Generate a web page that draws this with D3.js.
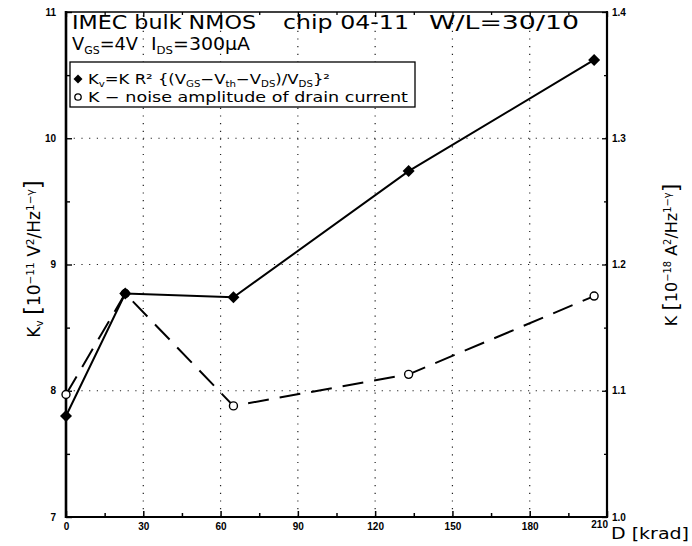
<!DOCTYPE html>
<html><head><meta charset="utf-8">
<script src="https://cdn.jsdelivr.net/npm/d3@7"></script>
<style>
body{margin:0;background:#fff}
svg text{fill:#000}
.tick text{font-family:"Liberation Sans",Arial,sans-serif;font-weight:bold;font-size:10px}
</style>
</head><body>
<svg id="chart" width="692" height="546"></svg>
<script>
// Dose (krad) at which each measurement was taken
const doses = [0, 23, 65, 133, 205];
// Kv = K R^2 {(VGS-Vth-VDS)/VDS}^2, in 1e-11 V^2/Hz^(1-γ)
const kvValues = [7.80, 8.77, 8.74, 9.74, 10.62];
// K, noise amplitude of drain current, in 1e-18 A^2/Hz^(1-γ)
const kValues = [1.097, 1.177, 1.088, 1.113, 1.175];
const xTicks = [0, 30, 60, 90, 120, 150, 180, 210];
const leftTicks = [7, 8, 9, 10, 11];
const rightTicks = [1.0, 1.1, 1.2, 1.3, 1.4];

const svg = d3.select("#chart");
const L = 66, R = 607, T = 12, B = 517;
const x = d3.scaleLinear().domain([0, 210]).range([L, R]);
const yL = d3.scaleLinear().domain([7, 11]).range([B, T]);
const yR = d3.scaleLinear().domain([1.0, 1.4]).range([B, T]);

// dotted grid
const grid = svg.append("g").attr("stroke", "#222").attr("stroke-width", 1.2)
  .attr("stroke-dasharray", "1.2,6.5").attr("fill", "none");
grid.selectAll(".gx").data(xTicks.slice(1, -1)).join("line")
  .attr("x1", d => x(d)).attr("x2", d => x(d)).attr("y1", B).attr("y2", T);
grid.selectAll(".gy").data(leftTicks.slice(1, -1)).join("line")
  .attr("y1", d => yL(d)).attr("y2", d => yL(d)).attr("x1", L).attr("x2", R);

// axes with inward ticks
const isMajor = (v, step) => Math.abs(v / step - Math.round(v / step)) < 1e-6;
const axBottom = svg.append("g").attr("transform", `translate(0,${B})`)
  .call(d3.axisBottom(x).tickValues(d3.range(0, 211, 15))
    .tickFormat(d => isMajor(d, 30) && d !== 210 ? d : "")
    .tickSizeInner(-6).tickSizeOuter(0).tickPadding(6));
axBottom.selectAll(".tick line").attr("y2", d => isMajor(d, 30) ? -6 : -4).attr("stroke-width", 1.5);
const axTop = svg.append("g").attr("transform", `translate(0,${T})`)
  .call(d3.axisTop(x).tickValues(d3.range(0, 211, 15)).tickFormat("")
    .tickSizeInner(-5).tickSizeOuter(0));
axTop.selectAll(".tick line").attr("y2", d => isMajor(d, 30) ? 5 : 3).attr("stroke-width", 1.3);

const axLeft = svg.append("g").attr("transform", `translate(${L},0)`)
  .call(d3.axisLeft(yL).tickValues(d3.range(7, 11.001, 0.5))
    .tickFormat(d => isMajor(d, 1) ? d : "")
    .tickSizeInner(-6).tickSizeOuter(0).tickPadding(10));
axLeft.selectAll(".tick line").attr("x2", d => isMajor(d, 1) ? 6 : 4).attr("stroke-width", 1.4);

const axRight = svg.append("g").attr("transform", `translate(${R},0)`)
  .call(d3.axisRight(yR).tickValues(d3.range(1.0, 1.4001, 0.05))
    .tickFormat(d => isMajor(d, 0.1) ? d3.format(".1f")(d) : "")
    .tickSizeInner(-5).tickSizeOuter(0).tickPadding(5));
axRight.selectAll(".tick line").attr("x2", d => isMajor(d, 0.1) ? -5 : -3).attr("stroke-width", 1.3);
[axBottom, axTop, axLeft, axRight].forEach(g => g.select(".domain").remove());

// "210" sits raised next to the axis title
svg.append("text").attr("x", x(210) + 1).attr("y", B + 11).attr("text-anchor", "end")
  .attr("font-family", "Liberation Sans, Arial, sans-serif").attr("font-weight", "bold")
  .attr("font-size", 10).text("210");

// frame
svg.append("line").attr("x1", L).attr("x2", L).attr("y1", T - 1).attr("y2", B + 1).attr("stroke", "#000").attr("stroke-width", 2.6);
svg.append("line").attr("x1", L).attr("x2", R).attr("y1", B).attr("y2", B).attr("stroke", "#000").attr("stroke-width", 2.2);
svg.append("line").attr("x1", R).attr("x2", R).attr("y1", T - 1).attr("y2", B + 1).attr("stroke", "#000").attr("stroke-width", 2.2);
svg.append("line").attr("x1", L).attr("x2", R).attr("y1", T).attr("y2", T).attr("stroke", "#000").attr("stroke-width", 1.6);

// series
const kvData = doses.map((d, i) => [d, kvValues[i]]);
const kData = doses.map((d, i) => [d, kValues[i]]);
svg.append("path").datum(kData).attr("fill", "none").attr("stroke", "#000").attr("stroke-width", 2)
  .attr("stroke-dasharray", "21,11")
  .attr("d", d3.line().x(d => x(d[0])).y(d => yR(d[1])));
svg.append("path").datum(kvData).attr("fill", "none").attr("stroke", "#000").attr("stroke-width", 2)
  .attr("d", d3.line().x(d => x(d[0])).y(d => yL(d[1])));
svg.selectAll(".kpt").data(kData).join("circle")
  .attr("cx", d => x(d[0])).attr("cy", d => yR(d[1])).attr("r", 4)
  .attr("fill", "#fff").attr("stroke", "#000").attr("stroke-width", 1.4);
svg.selectAll(".kvpt").data(kvData).join("path")
  .attr("transform", d => `translate(${x(d[0])},${yL(d[1])}) rotate(45)`)
  .attr("d", d3.symbol(d3.symbolSquare, 72)()).attr("fill", "#000");

// header text
const hf = "DejaVu Sans, Verdana, sans-serif";
const sub = (t, s, dy = 4) => t.append("tspan").attr("font-size", "62%").attr("dy", dy).text(s);
const up = (t, dy = -4) => t.append("tspan").attr("dy", dy);
const stretched = (str, x0, y0, size, len) => svg.append("text").attr("font-family", hf)
  .attr("font-size", size).attr("x", x0).attr("y", y0)
  .attr("textLength", len).attr("lengthAdjust", "spacingAndGlyphs").text(str);
stretched("IMEC bulk NMOS", 72, 29, 19, 184);
stretched("chip 04-11", 283, 29, 19, 126);
stretched("W/L=30/10", 429, 29, 19, 150);

const vgs = svg.append("text").attr("font-family", hf).attr("font-size", 17).attr("x", 72).attr("y", 49.5)
  .attr("textLength", 66).attr("lengthAdjust", "spacingAndGlyphs");
vgs.append("tspan").text("V");
sub(vgs, "GS");
up(vgs).text("=4V");
const ids = svg.append("text").attr("font-family", hf).attr("font-size", 17).attr("x", 151).attr("y", 49.5)
  .attr("textLength", 99).attr("lengthAdjust", "spacingAndGlyphs");
ids.append("tspan").text("I");
sub(ids, "DS");
up(ids).text("=300μA");

// legend
svg.append("rect").attr("x", 70).attr("y", 62).attr("width", 345).attr("height", 45)
  .attr("fill", "#fff").attr("stroke", "#000").attr("stroke-width", 1.3);
svg.append("path").attr("transform", "translate(78,79) rotate(45)")
  .attr("d", d3.symbol(d3.symbolSquare, 40)()).attr("fill", "#000");
svg.append("circle").attr("cx", 78).attr("cy", 97).attr("r", 3.2).attr("fill", "#fff")
  .attr("stroke", "#000").attr("stroke-width", 1.3);
const lf = 14;
const l1 = svg.append("text").attr("font-family", hf).attr("font-size", lf).attr("x", 88).attr("y", 84)
  .attr("textLength", 242).attr("lengthAdjust", "spacingAndGlyphs");
l1.append("tspan").text("K");
sub(l1, "v", 2.5);
up(l1, -2.5).text("=K R² {(V");
sub(l1, "GS", 2.5);
up(l1, -2.5).text("−V");
sub(l1, "th", 2.5);
up(l1, -2.5).text("−V");
sub(l1, "DS", 2.5);
up(l1, -2.5).text(")/V");
sub(l1, "DS", 2.5);
up(l1, -2.5).text("}²");
stretched("K − noise amplitude of drain current", 88, 102, 14, 320);

// axis titles
stretched("D [krad]", 611, 539, 16, 78);
const yl = svg.append("text").attr("font-family", hf).attr("font-size", 17)
  .attr("transform", "translate(40,259) rotate(-90)").attr("text-anchor", "middle");
yl.append("tspan").text("K");
yl.append("tspan").attr("font-size", "60%").attr("dy", 3).text("v");
yl.append("tspan").attr("dy", -3).text("   ");
yl.append("tspan").attr("font-size", 23).attr("dy", 1).text("[");
yl.append("tspan").attr("dy", -1).text("10");
yl.append("tspan").attr("font-size", "62%").attr("dy", -6).text("−11");
yl.append("tspan").attr("dy", 6).text(" V");
yl.append("tspan").attr("font-size", "62%").attr("dy", -6).text("2");
yl.append("tspan").attr("dy", 6).text("/Hz");
yl.append("tspan").attr("font-size", "62%").attr("dy", -6).text("1−γ");
yl.append("tspan").attr("font-size", 23).attr("dy", 7).text("]");
const yr = svg.append("text").attr("font-family", hf).attr("font-size", 16)
  .attr("transform", "translate(677,255) rotate(-90)").attr("text-anchor", "middle");
yr.append("tspan").text("K  ");
yr.append("tspan").attr("font-size", 22).attr("dy", 1).text("[");
yr.append("tspan").attr("dy", -1).text("10");
yr.append("tspan").attr("font-size", "62%").attr("dy", -6).text("−18");
yr.append("tspan").attr("dy", 6).text(" A");
yr.append("tspan").attr("font-size", "62%").attr("dy", -6).text("2");
yr.append("tspan").attr("dy", 6).text("/Hz");
yr.append("tspan").attr("font-size", "62%").attr("dy", -6).text("1−γ");
yr.append("tspan").attr("font-size", 22).attr("dy", 7).text("]");
</script>
</body></html>
